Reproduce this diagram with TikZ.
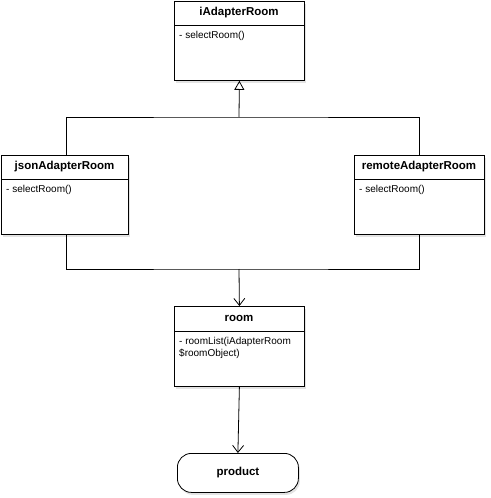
\documentclass[tikz,border=0pt]{standalone}
\usepackage{fontspec}
\setmainfont{Liberation Sans}
\usetikzlibrary{shadows,arrows.meta}
\tikzset{
  cls/.style={draw=black, line width=0.8pt, fill=white, drop shadow={shadow xshift=1.5pt, shadow yshift=-2.5pt, opacity=0.22, fill=gray}},
  ttl/.style={font=\bfseries\fontsize{11.5}{13}\selectfont, anchor=center},
  body/.style={font=\fontsize{10}{12}\selectfont, anchor=north west, align=left, inner sep=0pt},
  conn/.style={line width=0.8pt},
}
\begin{document}
\begin{tikzpicture}[x=1pt,y=-1pt]
\useasboundingbox (0,0) rectangle (490,498);
% class boxes: name, x1,y1,x2,y2, header bottom
\newcommand{\umlbox}[8]{%
  \node[cls, minimum width=#4-#2, minimum height=#5-#3, inner sep=0pt, anchor=north west] (#1) at (#2,#3) {};
  \draw[line width=0.8pt] (#2,#6) -- (#4,#6);
  \node[ttl] (#1t) at ({(#2+#4)/2},{(#3+#6)/2}) {#7};
  \node[body] (#1b) at (#2+5,#6+6) {#8};
}
\umlbox{iar}{174}{1}{304}{80}{25}{iAdapterRoom}{- selectRoom()}
\umlbox{jar}{1}{155}{128}{234}{179}{jsonAdapterRoom}{- selectRoom()}
\umlbox{rar}{354}{155}{484}{234}{179}{remoteAdapterRoom}{- selectRoom()}
\umlbox{room}{174}{306}{304}{386}{331}{room}{- roomList(iAdapterRoom\\\$roomObject)}
\node[draw, line width=0.8pt, fill=white, rounded corners=14pt, minimum width=121pt, minimum height=39pt, inner sep=0pt, anchor=north west, font=\bfseries\fontsize{11.5}{13}\selectfont, drop shadow={shadow xshift=1.5pt, shadow yshift=-2.5pt, opacity=0.22, fill=gray}] (prod) at (177,453) {product};
\coordinate (top) at (239,117);
\coordinate (bot) at (239,269);
% inheritance
\draw[conn] (jar.north -| 66,0) |- (top) -| (rar.north -| 419,0);
\draw[conn, -{Triangle[open, length=9pt, width=10pt]}] (top) -- (iar.south);
% to room
\draw[conn] (jar.south -| 66,0) |- (bot) -| (rar.south -| 419,0);
\draw[conn, -{Straight Barb[length=7pt, width=11pt]}] (bot) -- (room.north);
\draw[conn, -{Straight Barb[length=7pt, width=11pt]}] (room.south) -- (prod.north);
\end{tikzpicture}
\end{document}
